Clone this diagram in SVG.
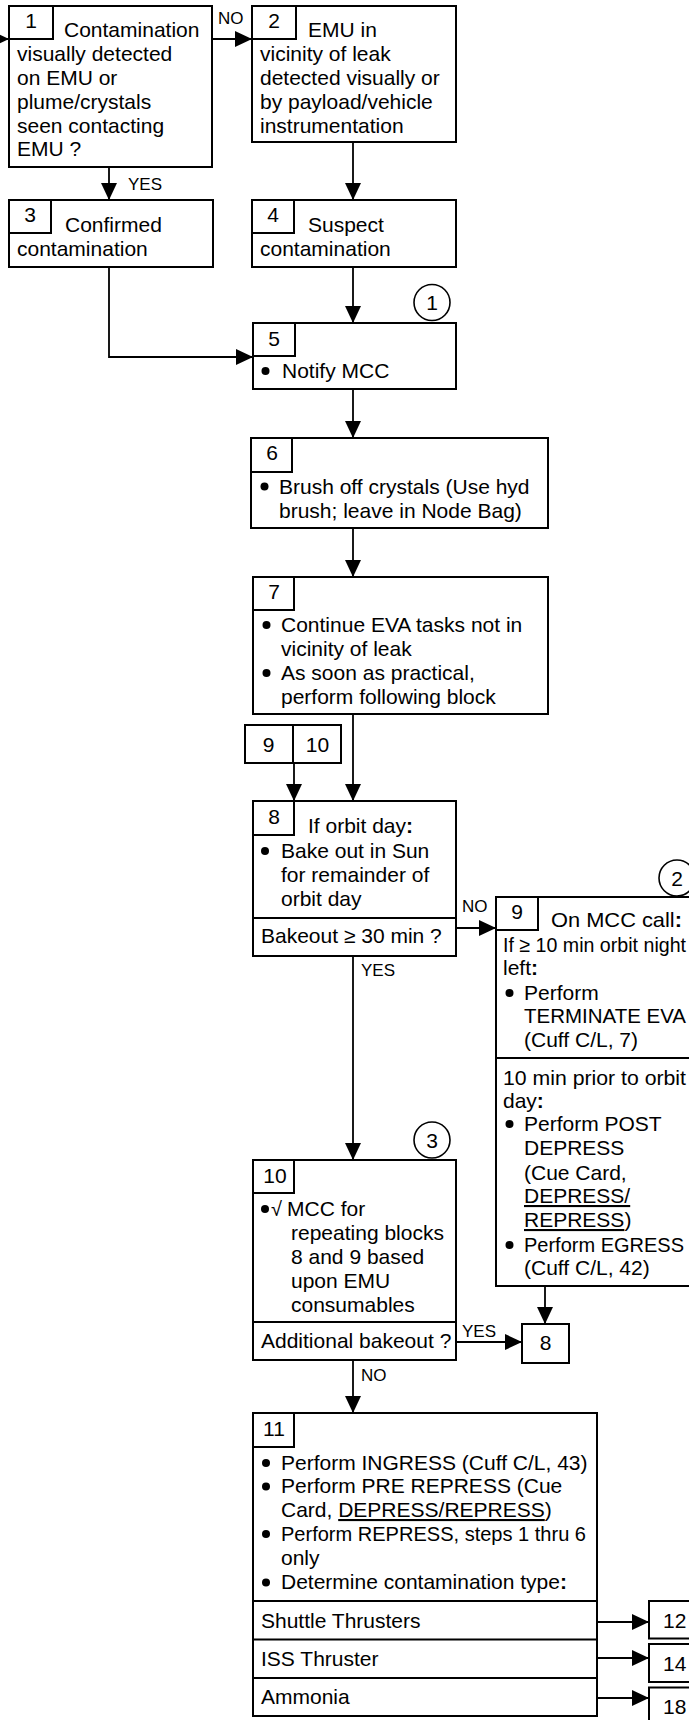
<svg xmlns="http://www.w3.org/2000/svg" width="689" height="1720" viewBox="0 0 689 1720">
<style>
.box{fill:#fff;stroke:#000;stroke-width:2}
.ln{fill:none;stroke:#000;stroke-width:1.8}
.t{font-family:"Liberation Sans",Arial,sans-serif;font-size:21px;fill:#000}
.n{text-anchor:middle}
.lbl{font-family:"Liberation Sans",Arial,sans-serif;font-size:17px;fill:#000}
.b{font-weight:bold}
.u{text-decoration:underline}
.dot{fill:#000}
.circ{fill:#fff;stroke:#000;stroke-width:1.6}
</style>
<defs>
<marker id="ah" markerUnits="userSpaceOnUse" markerWidth="17" markerHeight="16" refX="17" refY="8" orient="auto"><path d="M0,0 L17,8 L0,16 z" fill="#000"/></marker>
</defs>
<rect width="689" height="1720" fill="#fff"/>

<g id="connectors">
<line class="ln" x1="-20" y1="39" x2="9" y2="39" marker-end="url(#ah)"/>
<line class="ln" x1="212" y1="39" x2="252" y2="39" marker-end="url(#ah)"/>
<text class="lbl" x="218" y="24">NO</text>
<line class="ln" x1="109" y1="167" x2="109" y2="200" marker-end="url(#ah)"/>
<text class="lbl" x="128" y="190">YES</text>
<line class="ln" x1="353" y1="142" x2="353" y2="200" marker-end="url(#ah)"/>
<polyline class="ln" points="109,267 109,357 253,357" marker-end="url(#ah)"/>
<line class="ln" x1="353" y1="267" x2="353" y2="323" marker-end="url(#ah)"/>
<line class="ln" x1="353" y1="389" x2="353" y2="438" marker-end="url(#ah)"/>
<line class="ln" x1="353" y1="528" x2="353" y2="577" marker-end="url(#ah)"/>
<line class="ln" x1="353" y1="714" x2="353" y2="801" marker-end="url(#ah)"/>
<line class="ln" x1="294" y1="763" x2="294" y2="801" marker-end="url(#ah)"/>
<line class="ln" x1="456" y1="928" x2="496" y2="928" marker-end="url(#ah)"/>
<text class="lbl" x="462" y="912">NO</text>
<line class="ln" x1="353" y1="956" x2="353" y2="1160" marker-end="url(#ah)"/>
<text class="lbl" x="361" y="976">YES</text>
<line class="ln" x1="545" y1="1286" x2="545" y2="1324" marker-end="url(#ah)"/>
<line class="ln" x1="456" y1="1342" x2="522" y2="1342" marker-end="url(#ah)"/>
<text class="lbl" x="462" y="1337">YES</text>
<line class="ln" x1="353" y1="1360" x2="353" y2="1413" marker-end="url(#ah)"/>
<text class="lbl" x="361" y="1381">NO</text>
<line class="ln" x1="597" y1="1622" x2="649" y2="1622" marker-end="url(#ah)"/>
<line class="ln" x1="597" y1="1658" x2="649" y2="1658" marker-end="url(#ah)"/>
<line class="ln" x1="597" y1="1698" x2="649" y2="1698" marker-end="url(#ah)"/>
</g>

<g id="node1">
<rect class="box" x="9" y="6" width="203" height="161"/>
<rect class="box" x="9" y="6" width="44" height="33"/>
<text class="t n" x="31" y="28">1</text>
<text class="t" x="64" y="37">Contamination</text>
<text class="t" x="17" y="61">visually detected</text>
<text class="t" x="17" y="85">on EMU or</text>
<text class="t" x="17" y="109">plume/crystals</text>
<text class="t" x="17" y="133">seen contacting</text>
<text class="t" x="17" y="156">EMU ?</text>
</g>

<g id="node2">
<rect class="box" x="252" y="6" width="204" height="136"/>
<rect class="box" x="252" y="6" width="44" height="33"/>
<text class="t n" x="274" y="28">2</text>
<text class="t" x="308" y="37">EMU in</text>
<text class="t" x="260" y="61">vicinity of leak</text>
<text class="t" x="260" y="85">detected visually or</text>
<text class="t" x="260" y="109">by payload/vehicle</text>
<text class="t" x="260" y="133">instrumentation</text>
</g>

<g id="node3">
<rect class="box" x="9" y="200" width="204" height="67"/>
<rect class="box" x="9" y="200" width="42" height="33"/>
<text class="t n" x="30" y="222">3</text>
<text class="t" x="65" y="232">Confirmed</text>
<text class="t" x="17" y="256">contamination</text>
</g>

<g id="node4">
<rect class="box" x="252" y="200" width="204" height="67"/>
<rect class="box" x="252" y="200" width="42" height="33"/>
<text class="t n" x="273" y="222">4</text>
<text class="t" x="308" y="232">Suspect</text>
<text class="t" x="260" y="256">contamination</text>
</g>

<g id="node5">
<circle class="circ" cx="432" cy="302.5" r="18"/>
<text class="t n" x="432" y="310">1</text>
<rect class="box" x="253" y="323" width="203" height="66"/>
<rect class="box" x="253" y="323" width="42" height="33"/>
<text class="t n" x="274" y="346">5</text>
<circle class="dot" cx="265.5" cy="371" r="4"/>
<text class="t" x="282" y="378">Notify MCC</text>
</g>

<g id="node6">
<rect class="box" x="251" y="438" width="297" height="90"/>
<rect class="box" x="251" y="438" width="41" height="34"/>
<text class="t n" x="272" y="460">6</text>
<circle class="dot" cx="264.5" cy="486.5" r="4"/>
<text class="t" x="279" y="494">Brush off crystals (Use hyd</text>
<text class="t" x="279" y="518">brush; leave in Node Bag)</text>
</g>

<g id="node7">
<rect class="box" x="253" y="577" width="295" height="137"/>
<rect class="box" x="253" y="577" width="41" height="33"/>
<text class="t n" x="274" y="599">7</text>
<circle class="dot" cx="266.5" cy="625" r="4"/>
<text class="t" x="281" y="632">Continue EVA tasks not in</text>
<text class="t" x="281" y="656">vicinity of leak</text>
<circle class="dot" cx="266.5" cy="673" r="4"/>
<text class="t" x="281" y="680">As soon as practical,</text>
<text class="t" x="281" y="704">perform following block</text>
</g>

<g id="ref-9-10">
<rect class="box" x="245" y="725" width="48" height="38"/>
<rect class="box" x="293" y="725" width="48" height="38"/>
<text class="t n" x="268.5" y="752">9</text>
<text class="t n" x="317.5" y="752">10</text>
</g>

<g id="node8">
<rect class="box" x="253" y="801" width="203" height="155"/>
<rect class="box" x="253" y="801" width="41" height="34"/>
<text class="t n" x="274" y="824">8</text>
<text class="t" x="308" y="833">If orbit day<tspan class="b">:</tspan></text>
<circle class="dot" cx="265" cy="851" r="4"/>
<text class="t" x="281" y="858">Bake out in Sun</text>
<text class="t" x="281" y="882">for remainder of</text>
<text class="t" x="281" y="906">orbit day</text>
<line class="ln" x1="253" y1="918" x2="456" y2="918" style="stroke-width:2"/>
<text class="t" x="261" y="943">Bakeout ≥ 30 min ?</text>
</g>

<g id="node9">
<circle class="circ" cx="677" cy="878" r="18"/>
<text class="t n" x="677" y="886">2</text>
<rect class="box" x="496" y="897" width="200" height="389"/>
<rect class="box" x="496" y="897" width="42" height="33"/>
<text class="t n" x="517" y="919">9</text>
<text class="t" x="551" y="927" textLength="131" lengthAdjust="spacingAndGlyphs">On MCC call<tspan class="b">:</tspan></text>
<text class="t" x="503" y="952" textLength="183" lengthAdjust="spacingAndGlyphs">If ≥ 10 min orbit night</text>
<text class="t" x="503" y="975">left<tspan class="b">:</tspan></text>
<circle class="dot" cx="509.5" cy="993" r="4"/>
<text class="t" x="524" y="1000">Perform</text>
<text class="t" x="524" y="1023" textLength="162" lengthAdjust="spacingAndGlyphs">TERMINATE EVA</text>
<text class="t" x="524" y="1047">(Cuff C/L, 7)</text>
<line class="ln" x1="496" y1="1058" x2="696" y2="1058" style="stroke-width:2"/>
<text class="t" x="503" y="1085" textLength="183" lengthAdjust="spacingAndGlyphs">10 min prior to orbit</text>
<text class="t" x="503" y="1108">day<tspan class="b">:</tspan></text>
<circle class="dot" cx="509.5" cy="1124" r="4"/>
<text class="t" x="524" y="1131">Perform POST</text>
<text class="t" x="524" y="1155">DEPRESS</text>
<text class="t" x="524" y="1180">(Cue Card,</text>
<text class="t u" x="524" y="1203">DEPRESS/</text>
<text class="t" x="524" y="1227"><tspan class="u">REPRESS</tspan>)</text>
<circle class="dot" cx="509.5" cy="1245" r="4"/>
<text class="t" x="524" y="1252" textLength="160" lengthAdjust="spacingAndGlyphs">Perform EGRESS</text>
<text class="t" x="524" y="1275">(Cuff C/L, 42)</text>
</g>

<g id="node10">
<circle class="circ" cx="432" cy="1140" r="18"/>
<text class="t n" x="432" y="1148">3</text>
<rect class="box" x="253" y="1160" width="203" height="200"/>
<rect class="box" x="253" y="1160" width="41" height="33"/>
<text class="t n" x="275" y="1183">10</text>
<circle class="dot" cx="265" cy="1209" r="4"/>
<text class="t" x="271" y="1216" style="font-size:20px">√</text>
<text class="t" x="287" y="1216">MCC for</text>
<text class="t" x="291" y="1240">repeating blocks</text>
<text class="t" x="291" y="1264">8 and 9 based</text>
<text class="t" x="291" y="1288">upon EMU</text>
<text class="t" x="291" y="1312">consumables</text>
<line class="ln" x1="253" y1="1322" x2="456" y2="1322" style="stroke-width:2"/>
<text class="t" x="261" y="1348">Additional bakeout ?</text>
</g>

<g id="ref-8">
<rect class="box" x="522" y="1324" width="47" height="39"/>
<text class="t n" x="545.5" y="1350">8</text>
</g>

<g id="node11">
<rect class="box" x="253" y="1413" width="344" height="303"/>
<rect class="box" x="253" y="1413" width="41" height="34"/>
<text class="t n" x="274" y="1436">11</text>
<circle class="dot" cx="266" cy="1463" r="4"/>
<text class="t" x="281" y="1470">Perform INGRESS (Cuff C/L, 43)</text>
<circle class="dot" cx="266" cy="1486.5" r="4"/>
<text class="t" x="281" y="1493">Perform PRE REPRESS (Cue</text>
<text class="t" x="281" y="1517">Card, <tspan class="u">DEPRESS/REPRESS</tspan>)</text>
<circle class="dot" cx="266" cy="1534" r="4"/>
<text class="t" x="281" y="1541" textLength="305" lengthAdjust="spacingAndGlyphs">Perform REPRESS, steps 1 thru 6</text>
<text class="t" x="281" y="1565">only</text>
<circle class="dot" cx="266" cy="1582.5" r="4"/>
<text class="t" x="281" y="1589">Determine contamination type<tspan class="b">:</tspan></text>
<line class="ln" x1="253" y1="1601" x2="597" y2="1601" style="stroke-width:2"/>
<text class="t" x="261" y="1628">Shuttle Thrusters</text>
<line class="ln" x1="253" y1="1639.5" x2="597" y2="1639.5" style="stroke-width:2"/>
<text class="t" x="261" y="1666">ISS Thruster</text>
<line class="ln" x1="253" y1="1678" x2="597" y2="1678" style="stroke-width:2"/>
<text class="t" x="261" y="1704">Ammonia</text>
</g>

<g id="ref-12">
<rect class="box" x="649" y="1601" width="50" height="37.5"/>
<text class="t" x="663" y="1627.5">12</text>
</g>
<g id="ref-14">
<rect class="box" x="649" y="1644" width="50" height="38"/>
<text class="t" x="663" y="1670.5">14</text>
</g>
<g id="ref-18">
<rect class="box" x="649" y="1687.5" width="50" height="40"/>
<text class="t" x="663" y="1714">18</text>
</g>
</svg>
